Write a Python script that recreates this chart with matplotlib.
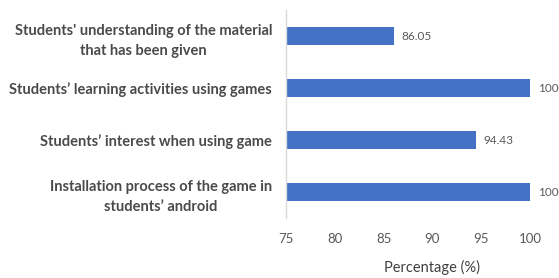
import matplotlib
matplotlib.use("Agg")
import matplotlib.pyplot as plt

categories = [
    "Students' understanding of the material\nthat has been given",
    "Students\u2019 learning activities using games",
    "Students\u2019 interest when using game",
    "Installation process of the game in\nstudents\u2019 android",
]
values = [86.05, 100, 94.43, 100]
value_labels = ["86.05", "100", "94.43", "100"]
xticks = [75, 80, 85, 90, 95, 100]

bar_color = "#4472C4"
text_gray = "#595959"
font = "Lato"

fig = plt.figure(figsize=(5.59, 2.78), dpi=100)
ax = fig.add_axes([0.5116, 0.2158, 0.4365, 0.748])

ypos = list(range(len(categories)))
ax.barh(ypos, [v - 75 for v in values], left=75, height=0.35, color=bar_color)
ax.set_ylim(len(categories) - 0.5, -0.5)
ax.set_xlim(75, 100)

for y, v, lab in zip(ypos, values, value_labels):
    ax.text(v + 0.8, y, lab, va="center", ha="left", fontsize=8.5,
            color=text_gray, family=font)

ax.set_yticks(ypos)
ax.set_yticklabels(categories, fontsize=10.5, fontweight="bold",
                   color="#4a4a4a", family=font)
for t in ax.get_yticklabels():
    t.set_multialignment("center")
    t.set_linespacing(1.6)
ax.tick_params(axis="y", length=0, pad=10)

ax.set_xticks(xticks)
ax.set_xticklabels([str(x) for x in xticks], fontsize=9.5, color=text_gray,
                   family=font)
ax.tick_params(axis="x", length=0, pad=11)
ax.set_xlabel("Percentage (%)", fontsize=10.5, color="#404040", family=font)
ax.xaxis.set_label_coords(0.598, -0.236)
ax.xaxis.label.set_va("center")

for s in ["top", "right", "bottom"]:
    ax.spines[s].set_visible(False)
ax.spines["left"].set_color("#D9D9D9")
ax.spines["left"].set_linewidth(1.0)

fig.savefig("out.png", dpi=100)
